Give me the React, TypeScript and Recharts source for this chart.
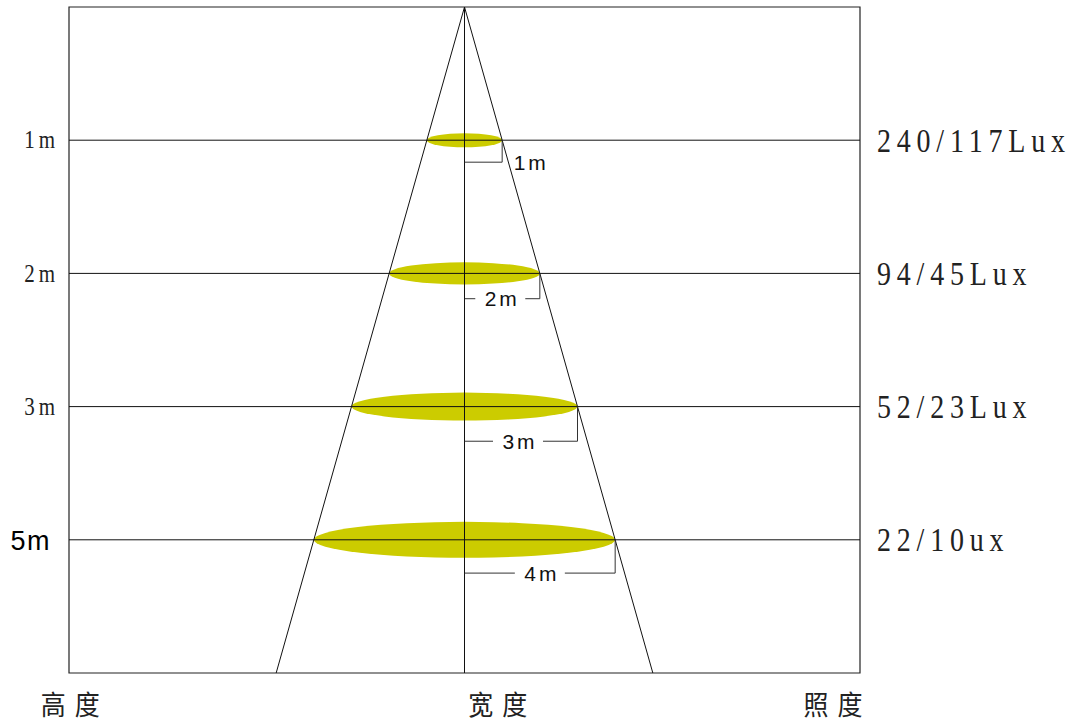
import {
  ComposedChart,
  ReferenceArea,
  ReferenceLine,
  Scatter,
  XAxis,
  YAxis,
} from 'recharts'

// beam cone: depth levels (y units) and spot half-widths (x units, 1 unit = 1 m)
const LEVELS = [1, 2, 3, 4]
const HEIGHT_LABELS = ['1m', '2m', '3m', '5m']
const LUX_LABELS = ['240/117Lux', '94/45Lux', '52/23Lux', '22/10ux']
const SPOT_RADIUS = [1, 2, 3, 4]
const SPOT_THICKNESS = [0.053, 0.083, 0.105, 0.135]
const DIM_LABELS = ['1m', '2m', '3m', '4m']
const DIM_OFFSET = [0.165, 0.19, 0.26, 0.25]
const DIM_LABEL_X = [1.72, 0.95, 1.42, 2.0]
const AXIS_TITLES = ['高度', '宽度', '照度']
const AXIS_TITLE_X = [-10.35, 1.0, 9.9]
const CONE_DEPTH = 5
const X_DOMAIN: [number, number] = [-10.5, 10.5]

const dimData = LEVELS.map((lv, i) => ({
  x: DIM_LABEL_X[i],
  y: lv + DIM_OFFSET[i],
  label: DIM_LABELS[i],
  gap: DIM_LABEL_X[i] < SPOT_RADIUS[i],
}))
const luxData = LEVELS.map((lv) => ({ x: 0, y: lv }))

const SPOT = '#cccc00'
const LINE = '#111'

function LeftTick({ x, y, payload }: any) {
  const i = LEVELS.indexOf(payload.value)
  if (i < 0) return null
  const label = HEIGHT_LABELS[i]
  if (label === '5m') {
    return (
      <text x={x - 10} y={y} dy="0.36em" textAnchor="end" fontFamily="Liberation Sans, Arial, sans-serif" fontSize={27} letterSpacing={1.5} fill="#000">
        {label}
      </text>
    )
  }
  return (
    <g transform={`translate(${x - 2},${y}) scale(1,1.15)`}>
      <text x={0} y={0} dy="0.34em" textAnchor="end" fontFamily="Liberation Serif, serif" fontSize={21} letterSpacing={4} fill="#222">
        {label}
      </text>
    </g>
  )
}

function RightTick({ x, y, payload }: any) {
  const i = LEVELS.indexOf(payload.value)
  if (i < 0) return null
  return (
    <g transform={`translate(${x + 9},${y}) scale(1,1.2)`}>
      <text x={0} y={0} dy="0.34em" textAnchor="start" fontFamily="Liberation Serif, serif" fontSize={28} letterSpacing={5.8} fill="#222">
        {LUX_LABELS[i]}
      </text>
    </g>
  )
}

function BottomTick({ x, y, payload }: any) {
  const i = AXIS_TITLE_X.indexOf(payload.value)
  if (i < 0) return null
  return (
    <g transform={`translate(${x},${y + 24}) scale(1,1.1)`}>
      <text x={0} y={0} dy="0.35em" textAnchor="middle" fontFamily="Noto Sans CJK SC, sans-serif" fontSize={25} letterSpacing={9} fill="#222">
        {AXIS_TITLES[i]}
      </text>
    </g>
  )
}

function DimLabel({ cx, cy, payload }: any) {
  return (
    <g>
      {payload.gap && <rect x={cx - 25} y={cy - 6} width={50} height={12} fill="#fff" />}
      <text x={cx + 2} y={cy} dy="0.36em" textAnchor="middle" fontFamily="Liberation Sans, Arial, sans-serif" fontSize={21} letterSpacing={3} fill="#111">
        {payload.label}
      </text>
    </g>
  )
}

const NoMark = () => <g />

const spotShape = (p: any) => (
  <ellipse cx={p.x + p.width / 2} cy={p.y + p.height / 2} rx={p.width / 2} ry={p.height / 2} fill={SPOT} />
)

export default function App() {
  return (
    <div style={{ position: 'absolute', left: 0, top: 0, background: '#fff' }}>
      <ComposedChart width={1074} height={722} data={dimData} margin={{ top: 7, right: 0, bottom: 0, left: 0 }}>
        <XAxis
          type="number"
          dataKey="x"
          domain={X_DOMAIN}
          ticks={AXIS_TITLE_X}
          interval={0}
          height={49}
          axisLine={false}
          tickLine={false}
          tick={<BottomTick />}
        />
        <YAxis
          yAxisId="left"
          type="number"
          dataKey="y"
          domain={[0, CONE_DEPTH]}
          reversed
          ticks={LEVELS}
          interval={0}
          width={69}
          axisLine={false}
          tickLine={false}
          tick={<LeftTick />}
        />
        <YAxis
          yAxisId="right"
          orientation="right"
          type="number"
          dataKey="y"
          domain={[0, CONE_DEPTH]}
          reversed
          ticks={LEVELS}
          interval={0}
          width={214}
          axisLine={false}
          tickLine={false}
          tick={<RightTick />}
        />

        {LEVELS.map((lv) => (
          <ReferenceLine key={`h${lv}`} yAxisId="left" y={lv} stroke={LINE} strokeWidth={1} />
        ))}
        <ReferenceLine yAxisId="left" x={0} stroke={LINE} strokeWidth={1} />
        <ReferenceLine yAxisId="left" ifOverflow="visible" segment={[{ x: 0, y: 0 }, { x: -CONE_DEPTH, y: CONE_DEPTH }]} stroke={LINE} />
        <ReferenceLine yAxisId="left" ifOverflow="visible" segment={[{ x: 0, y: 0 }, { x: CONE_DEPTH, y: CONE_DEPTH }]} stroke={LINE} />
        <ReferenceArea
          yAxisId="left"
          x1={X_DOMAIN[0]}
          x2={X_DOMAIN[1]}
          y1={0}
          y2={CONE_DEPTH}
          fill="none"
          stroke="#222"
          strokeWidth={1.2}
          ifOverflow="visible"
        />

        {LEVELS.map((lv, i) => (
          <ReferenceArea
            key={`s${lv}`}
            yAxisId="left"
            x1={-SPOT_RADIUS[i]}
            x2={SPOT_RADIUS[i]}
            y1={lv - SPOT_THICKNESS[i]}
            y2={lv + SPOT_THICKNESS[i]}
            shape={spotShape}
            ifOverflow="visible"
          />
        ))}

        {LEVELS.map((lv, i) => (
          <ReferenceLine
            key={`d${lv}`}
            yAxisId="left"
            ifOverflow="visible"
            segment={[{ x: 0, y: lv + DIM_OFFSET[i] }, { x: SPOT_RADIUS[i], y: lv + DIM_OFFSET[i] }]}
            stroke="#333"
          />
        ))}
        {LEVELS.map((lv, i) => (
          <ReferenceLine
            key={`c${lv}`}
            yAxisId="left"
            ifOverflow="visible"
            segment={[{ x: 0, y: lv }, { x: 0, y: lv + DIM_OFFSET[i] }]}
            stroke={LINE}
          />
        ))}
        {LEVELS.map((lv, i) => (
          <ReferenceLine
            key={`e${lv}`}
            yAxisId="left"
            ifOverflow="visible"
            segment={[{ x: SPOT_RADIUS[i], y: lv }, { x: SPOT_RADIUS[i], y: lv + DIM_OFFSET[i] }]}
            stroke="#333"
          />
        ))}

        <Scatter yAxisId="left" dataKey="y" data={dimData} shape={<DimLabel />} isAnimationActive={false} />
        <Scatter yAxisId="right" dataKey="y" data={luxData} shape={<NoMark />} isAnimationActive={false} />
      </ComposedChart>
    </div>
  )
}
